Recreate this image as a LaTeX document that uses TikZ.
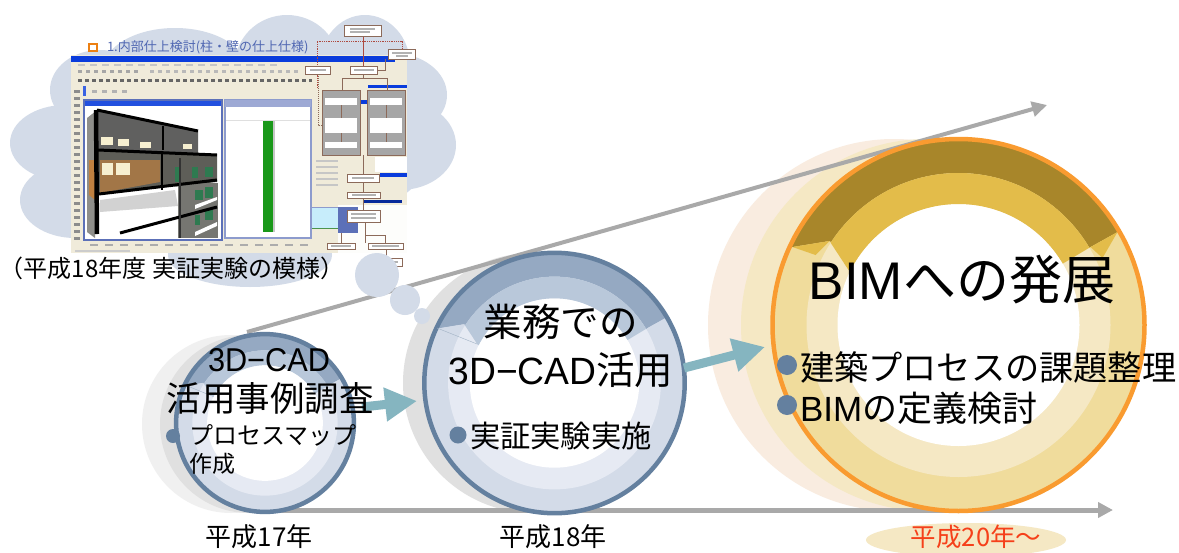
\documentclass[tikz,border=0pt]{standalone}
\usepackage{fontspec}
\setmainfont{Liberation Sans}
\newfontfamily\cjk{Noto Sans CJK JP}
\usetikzlibrary{arrows.meta}
\newcommand{\fs}[1]{\fontsize{#1}{#1}\selectfont}
\definecolor{cloudc}{HTML}{D3DBE8}
\definecolor{steel}{HTML}{64809F}
\definecolor{teal}{HTML}{85B5C0}
\definecolor{axisc}{HTML}{A9A9A9}
\definecolor{framec}{HTML}{F0EBDA}
\definecolor{winb}{HTML}{5C70B8}
\definecolor{barb}{HTML}{0A3CDC}
\definecolor{flowg}{HTML}{A6A6A6}
\definecolor{flowl}{HTML}{8C6A5A}
\definecolor{bgrey}{HTML}{5E5E58}
\definecolor{bgreen}{HTML}{2E7A50}
\definecolor{bcream}{HTML}{F6EFD0}
\definecolor{gold}{HTML}{E3BC4A}
\definecolor{gdark}{HTML}{A8862A}
\definecolor{gouter}{HTML}{F0DC9C}
\definecolor{ginner}{HTML}{F5E8C4}
\definecolor{peach}{HTML}{F9ECE0}
\definecolor{ringor}{HTML}{F99B30}
\definecolor{sdark}{HTML}{95A9C2}
\definecolor{smid}{HTML}{B9C8DA}
\definecolor{slight}{HTML}{E6EAF3}
\definecolor{yearred}{HTML}{F5401A}
\tikzset{
  lab/.style={inner sep=0pt,outer sep=0pt,text=black},
  axisarrow/.style={draw=axisc,-{Triangle[length=15pt,width=15pt]}},
  tealarrow/.style={draw=teal,line width=9pt,-{Triangle[length=32pt,width=32pt]}},
  bullet/.style={circle,fill=steel,inner sep=0pt,outer sep=0pt},
  flowbox/.style={fill=white,draw=flowl,line width=.7pt,inner sep=0pt,outer sep=0pt},
  flowline/.style={draw=flowl,line width=1pt},
  cloudpart/.style={fill=cloudc,draw=none},
}
% cx cy scale outer inner dark mid stroke lw ; \tricol for corner triangles
\newcommand{\ringset}[9]{%
  \begin{scope}[shift={(#1,#2)},x=#3pt,y=-#3pt]
    \fill[#4] (0,0) circle (186);
    \fill[#5] (0,0) circle (152);
    \fill[white] (0,0) circle (121);
    \begin{scope}
      \clip (-129,-84) -- (-166,-78) -- (-220,-104) -- (-220,-260) -- (220,-260) -- (220,-129) -- (159,-93) -- (132,-78) -- (0,0) -- cycle;
      \fill[#6,even odd rule] (0,0) circle (186) (0,0) circle (152);
    \end{scope}
    \begin{scope}
      \clip (-110,-55) -- (-129,-84) -- (-200,-130) -- (-200,-260) -- (200,-260) -- (200,-118) -- (132,-78) -- (107,-63) -- (0,0) -- cycle;
      \fill[#7,even odd rule] (0,0) circle (152) (0,0) circle (121);
    \end{scope}
    \fill[\tricol] (-166,-78) -- (-129,-84) -- (-143,-70) -- cycle;
    \fill[\tricol] (159,-93) -- (132,-78) -- (144,-67) -- cycle;
    \draw[#8,line width=#9pt] (0,0) circle (186);
  \end{scope}}
\begin{document}
\begin{tikzpicture}[x=1pt,y=-1pt]
\useasboundingbox (0,0) rectangle (1179,552);
\clip (0,0) rectangle (1179,552);
\fill[white] (0,0) rectangle (1179,552);

% ---------- cloud
\foreach \cx/\cy/\rx/\ry in {175/70/72/42,287/65/52/50,365/65/45/50,392/95/55/42,400/145/56/45,365/170/55/35,100/90/50/40,65/143/55/38,75/200/55/38,110/215/60/22,250/255/82/32,230/150/180/90}
  \fill[cloudpart] (\cx,\cy) ellipse [x radius=\rx,y radius=\ry];

% ---------- screenshot
\fill[framec] (71,55) rectangle (407,253);
\fill[barb] (71,56) rectangle (395,61.5);
\foreach \x in {78,90,...,270} \fill[gray!45] (\x,64) rectangle ++(7,1.5);
\foreach \x in {78,86,...,140} \fill[gray!70] (\x,70) rectangle ++(4,3);
\foreach \x in {150,158,...,300} \fill[gray!55] (\x,70) rectangle ++(4,3);
\foreach \x in {78,85,...,335} \fill[black!60] (\x,79) rectangle ++(3.5,3);
\fill[barb!80] (83,86) rectangle (86,96);
\foreach \x in {92,102,112,122} \fill[gray!60] (\x,90) rectangle ++(5,3);
\foreach \y in {90,97,...,237} \fill[black!45] (74,\y) rectangle ++(6,3);
\foreach \x in {90,105,...,300} \fill[gray!65] (\x,244) rectangle ++(8,2);
\fill[gray!40] (75,250) rectangle (130,252);
% centre window
\fill[white,draw=winb!70,line width=1.5pt] (225,100) rectangle (311,238);
\fill[winb!60] (225,100) rectangle (311,107);
\draw[gray!25] (226,120) -- (310,120);
\fill[green!55!black!90!white] (263,121) rectangle (273,232);
\fill[gray!45] (273,121) rectangle (274.5,232);
% left window
\fill[white] (83,100) rectangle (223,240);
\fill[barb!90] (84,100) rectangle (222,106);
\fill[black!70!bgrey!70!white] (88,118) -- (97,110) -- (198,131) -- (198,155) -- (95,150) -- cycle;
\fill[bgrey] (97,150) -- (217,155) -- (217,182) -- (97,195) -- cycle;
\fill[bgrey!70] (87,118) -- (95,112) -- (95,238) -- (87,232) -- cycle;
\fill[orange!50!gray] (89,160) -- (95,160) -- (95,200) -- (89,195) -- cycle;
\fill[brown!70!bgrey] (100,160) -- (160,160) -- (160,182) -- (100,193) -- cycle;
\fill[white] (98,195) -- (175,185) -- (175,232) -- (120,232) -- (98,238) -- cycle;
\fill[gray!35] (100,200) -- (175,190) -- (178,206) -- (100,212) -- cycle;
\fill[bgrey!85] (178,183) rectangle (218,238);
\fill[white] (195,205) -- (217,197) -- (217,200) -- (195,209) -- cycle;
\fill[white] (195,232) -- (217,222) -- (217,226) -- (195,236) -- cycle;
\fill[bcream] (101,137) rectangle (113,145);
\fill[bcream] (118,139) rectangle (129,146);
\fill[bcream] (140,142) rectangle (151,148);
\fill[bcream] (183,144) rectangle (192,149);
\fill[bcream] (102,163) rectangle (113,175);
\fill[bcream] (116,163) rectangle (130,175);
\foreach \xa/\ya/\xb/\yb in {175/167/180/182,192/167/198/178,205/167/213/177,195/190/203/200,205/187/213/198,195/215/200/225,205/210/213/220}
  \fill[bgreen] (\xa,\ya) rectangle (\xb,\yb);
\draw[black,line width=3pt] (97,110) -- (198,131);
\draw[black,line width=3pt] (98,150) -- (217,155);
\draw[black,line width=3pt] (99,194) -- (217,180);
\draw[black,line width=3pt] (120,233) -- (217,207);
\draw[black,line width=4.5pt] (96,110) -- (97,234);
\draw[black,line width=2pt] (163,126) -- (163,150);
\draw[black,line width=2pt] (162,153) -- (162,190);
\draw[black!80,line width=2pt] (180,158) -- (180,238);
\draw[winb,line width=2pt] (84,100) rectangle (222,240);
% flowchart part
\fill[framec] (312,62) rectangle (407,207);
\fill[white] (375,157) rectangle (407,172);
\fill[white!90!framec] (338,205) rectangle (407,253);
\fill[cyan!22] (312,207) rectangle (338,228);
\draw[green!40!black!70,line width=1pt] (312,228) -- (338,228);
\draw[winb!70,line width=1pt] (312,207) -- (338,207);
\fill[winb] (338,207) rectangle (358,233);
\fill[barb] (358,100) rectangle (367,104);
\fill[barb] (368,85) rectangle (407,88);
\fill[barb] (380,173) rectangle (407,177);
\fill[barb!70!black] (363,200) rectangle (402,203);
\foreach \x in {322,367} {
  \fill[flowg] (\x,90) rectangle ++(38,65);
  \draw[flowl,line width=.8pt] (\x,90) rectangle ++(38,65);
  \fill[white] (\x+3,98) rectangle ++(32,7);
  \fill[white] (\x+3,118) rectangle ++(32,15);
  \fill[white] (\x+3,142) rectangle ++(32,6);
  \draw[flowline] (\x+19,105) -- (\x+19,118) (\x+19,133) -- (\x+19,142);
}
\coordinate (ftop) at (363,36);
\coordinate (fmid) at (363,66);
\draw[flowl!70!red,line width=.8pt,densely dotted] (317,88) -- (317,41) -- (402,41) -- (402,49);
\draw[flowl!70!red,line width=1pt] (ftop) -- (fmid);
\draw[flowline] (377,70) -- (385,70) -- (385,59);
\draw[flowline] (363,74) -- (363,78) (342,90) -- (342,78) -- (387,78) -- (387,90);
\draw[flowl,line width=1pt,densely dotted] (318,74) -- (318,125) -- (322,125);
\draw[flowline] (363,155) -- (363,174) (363,182) -- (363,192) (363,198) -- (363,210) (365,222) -- (365,243);
\draw[flowline] (365,235) -- (385,235) -- (385,243) (341,233) -- (341,243) (386,249) -- (386,258);
\fill[flowbox] (344,25) rectangle (381,36);
\fill[flowbox] (388,49) rectangle (415,59);
\fill[flowbox] (305,66) rectangle (330,74);
\fill[flowbox] (350,66) rectangle (377,74);
\fill[flowbox] (347,174) rectangle (379,182);
\fill[flowbox] (347,192) rectangle (380,198);
\fill[flowbox] (347,210) rectangle (380,222);
\fill[flowbox] (327,243) rectangle (355,249);
\fill[flowbox] (368,243) rectangle (403,249);
\foreach \y in {160,166,172,178,184} \fill[gray!45] (316,\y) rectangle ++(22,1.5);
\foreach \xa/\ya/\xb/\yb in {350/28/375/30,350/31/370/33,392/52/412/54,396/55/408/57,310/69/326/71,354/69/374/71,352/177/374/179,352/194/376/196,351/213/376/215,351/217/376/219,331/245/351/247,372/245/399/247}
  \fill[gray!60] (\xa,\ya) rectangle (\xb,\yb);
\fill[flowbox] (370,258) rectangle (402,266);
\fill[gray!60] (374,261) rectangle (398,263);
\draw[flowline] (386,249) -- (386,258);
% title above screenshot
\draw[orange!70!brown,line width=1.2pt] (89,44) rectangle (97,51);
\node[lab,anchor=west,text=steel!80!blue] (shottitle) at (107,47.5) {\cjk\fs{13}1.内部仕上検討(柱・壁の仕上仕様)};

% ---------- shadows
\fill[peach] (894,325) circle (186);
\fill[black!6] (231,424) circle (89);
\fill[black!12] (249,424) circle (89);
\fill[black!12] (533,383) circle (130);
\fill[ginner] (927,325) circle (186);

% ---------- axes
\coordinate (upA) at (247,332);
\coordinate (upB) at (1047,105);
\coordinate (hzA) at (265,510);
\coordinate (hzB) at (1113,510);
\draw[axisarrow,line width=4pt] (upA) -- (upB);
\draw[axisarrow,line width=5pt] (hzA) -- (hzB);

% ---------- rings
\def\tricol{cloudc}
\ringset{265}{423}{.478}{cloudc}{slight}{sdark}{smid}{steel}{4.5}
\draw[steel!60,line width=.4pt] (185,385) -- (212,396);
\ringset{554.5}{383}{.7}{cloudc}{slight}{sdark}{smid}{steel}{4.5}
\draw[steel!60,line width=.4pt] (437,328) -- (477,344);
\def\tricol{gold}
\ringset{958.5}{325}{1}{gouter}{ginner}{gdark}{gold}{ringor}{4.5}

% ---------- thought bubbles
\fill[cloudpart] (377,275) circle (22);
\fill[cloudpart] (405,300) circle (15);
\fill[cloudpart] (422,316) circle (8);

% ---------- arrows between stages
\coordinate (t1a) at (362,407);
\coordinate (t1b) at (417,401);
\coordinate (t2a) at (684,368);
\coordinate (t2b) at (765,347);
\draw[tealarrow] (t1a) -- (t1b);
\draw[tealarrow] (t2a) -- (t2b);

% ---------- bullets
\node[bullet,minimum size=14pt] (b1) at (173,436) {};
\node[bullet,minimum size=17pt] (b2) at (458,435) {};
\node[bullet,minimum size=20pt] (b3) at (787,365) {};
\node[bullet,minimum size=20pt] (b4) at (787,405) {};

% ---------- ellipse under year label
\fill[ginner] (966,540) ellipse [x radius=100,y radius=17];

% ---------- texts
\node[lab] (capt) at (172,268) {\cjk\fs{24}（平成18年度 実証実験の模様）};
\node[lab] (st1a) at (269,360) {\scalebox{.93}[1]{\fs{33}3D−CAD}};
\node[lab] (st1b) at (270,398) {\cjk\fs{34.5}活用事例調査};
\node[lab,anchor=west] (st1c) at (189,435) {\cjk\fs{24}プロセスマップ};
\node[lab,anchor=west] (st1d) at (189,464) {\cjk\fs{23}作成};
\node[lab] (st2a) at (560.5,322) {\cjk\fs{38.5}業務での};
\node[lab] (st2b) at (561,370) {\scalebox{.98}[1]{\fs{38}3D−CAD}{\cjk\fs{38.5}活用}};
\node[lab,anchor=west] (st2c) at (470,436) {\cjk\fs{30.3}実証実験実施};
\node[lab] (st3a) at (962,280) {\fs{53}BIM{\cjk\fs{53}への発展}};
\node[lab,anchor=west] (st3b) at (800,367) {\cjk\fs{34.2}建築プロセスの課題整理};
\node[lab,anchor=west] (st3c) at (800,408) {\fs{35}BIM{\cjk\fs{35}の定義検討}};
\node[lab] (y17) at (259,537) {\cjk\fs{26}平成17年};
\node[lab] (y18) at (553,537) {\cjk\fs{26}平成18年};
\node[lab,text=yearred] (y20) at (976,537) {\cjk\fs{25.5}平成20年～};
\end{tikzpicture}
\end{document}
